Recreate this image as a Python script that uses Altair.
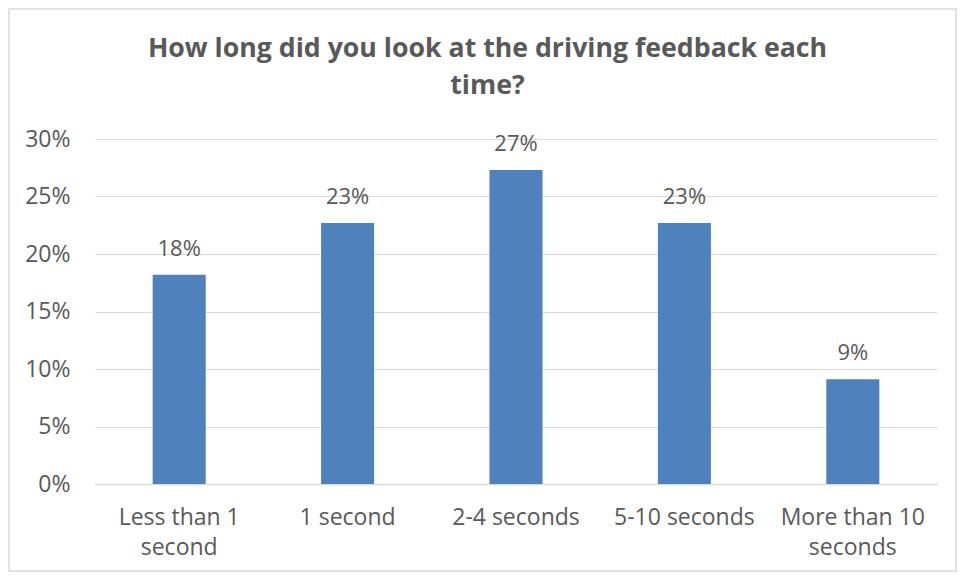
import altair as alt
import pandas as pd

categories = ["Less than 1 second", "1 second", "2-4 seconds", "5-10 seconds", "More than 10 seconds"]
values = [0.182, 0.227, 0.273, 0.227, 0.091]
labels = ["18%", "23%", "27%", "23%", "9%"]
y_ticks = [0, 0.05, 0.10, 0.15, 0.20, 0.25, 0.30]
title_lines = ["How long did you look at the driving feedback each", "time?"]

df = pd.DataFrame({"cat": categories, "val": values, "lab": labels})

TXT = "#595959"
FONT = "Open Sans"

label_expr = ("datum.label == 'Less than 1 second' ? ['Less than 1', 'second'] : "
              "datum.label == 'More than 10 seconds' ? ['More than 10', 'seconds'] : datum.label")

x = alt.X("cat:N", sort=categories, title=None,
          scale=alt.Scale(paddingInner=0.685, paddingOuter=0.3425),
          axis=alt.Axis(labelAngle=0, labelExpr=label_expr, labelFontSize=23, labelColor=TXT,
                        labelFont=FONT, labelPadding=22, labelLineHeight=30, ticks=False, grid=False,
                        domainColor="#d9d9d9", domainWidth=1.5, labelBaseline="top"))
y = alt.Y("val:Q", title=None,
          scale=alt.Scale(domain=[0, 0.3], nice=False),
          axis=alt.Axis(values=y_ticks, format=".0%", labelFontSize=23, labelColor=TXT, labelFont=FONT,
                        labelPadding=25, ticks=False, domain=False, gridColor="#d9d9d9", gridWidth=1.2))

base = alt.Chart(df)
bars = base.mark_bar(color="#4f81bd").encode(x=x, y=y)
text = base.mark_text(dy=-19, fontSize=22, font=FONT, color=TXT, baseline="alphabetic").encode(
    x=alt.X("cat:N", sort=categories), y="val:Q", text="lab:N")

border = alt.Chart(pd.DataFrame({"a": [0]})).mark_rect(fill=None, stroke="#d9d9d9", strokeWidth=1.5).encode(
    x=alt.value(-86), x2=alt.value(861), y=alt.value(-130), y2=alt.value(432))

title1 = alt.Chart(pd.DataFrame({"t": [title_lines[0]]})).mark_text(
    fontSize=26.7, font=FONT, fontWeight="bold", color=TXT, baseline="alphabetic", align="center").encode(
    text="t:N", x=alt.value(392.5), y=alt.value(-82))
title2 = alt.Chart(pd.DataFrame({"t": [title_lines[1]]})).mark_text(
    fontSize=26.7, font=FONT, fontWeight="bold", color=TXT, baseline="alphabetic", align="center").encode(
    text="t:N", x=alt.value(392.5), y=alt.value(-45))

chart = alt.layer(border, bars, text, title1, title2).properties(
    width=842, height=345,
    background="white",
    autosize=alt.AutoSizeParams(type="none"),
    padding={"left": 87, "top": 131, "right": 20, "bottom": 88},
).configure_view(stroke="transparent", strokeWidth=0).configure_axisX(grid=False)

chart.save("out.html", embed_options={"renderer": "svg", "actions": False})
